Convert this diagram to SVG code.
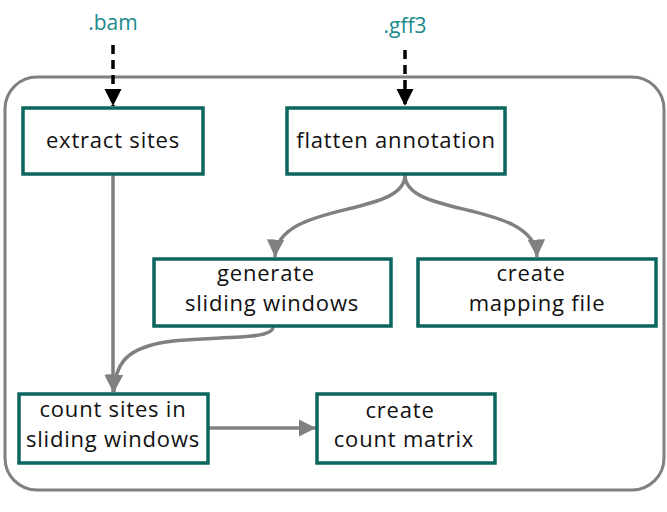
<svg xmlns="http://www.w3.org/2000/svg" width="667" height="512" viewBox="0 0 667 512">
<style>
.box{fill:#fff;stroke:#0b6660;stroke-width:3.5}
.lbl{font-family:"Open Sans","Liberation Sans",sans-serif;font-size:22px;letter-spacing:0.8px;fill:#111;text-anchor:middle}
.ext{font-family:"Open Sans","Liberation Sans",sans-serif;font-size:21px;fill:#1a8a8a;text-anchor:middle}
.con{fill:none;stroke:#808080;stroke-width:3.5}
.dash{fill:none;stroke:#000;stroke-width:3.5;stroke-dasharray:9,6}
</style>
<defs>
<marker id="ga" viewBox="0 0 10 10" refX="10" refY="5" markerWidth="5" markerHeight="5.5" markerUnits="strokeWidth" orient="auto">
<path d="M0,0 L10,5 L0,10 z" fill="#808080"/>
</marker>
<marker id="ba" viewBox="0 0 10 10" refX="10" refY="5" markerWidth="5" markerHeight="6.5" markerUnits="strokeWidth" orient="auto">
<path d="M0,0 L10,5 L0,10 z" fill="#000"/>
</marker>
</defs>
<rect x="0" y="0" width="667" height="512" fill="#fff"/>
<rect id="container" x="5" y="77" width="659" height="413" rx="32" fill="none" stroke="#808080" stroke-width="3"/>
<text class="ext" x="113" y="30">.bam</text>
<text class="ext" x="405" y="33">.gff3</text>
<g id="connectors">
<path class="dash" d="M113,45 L113,106" marker-end="url(#ba)"/>
<path class="dash" d="M405,50 L405,106" marker-end="url(#ba)"/>
<path class="con" d="M113,174 L113,392" marker-end="url(#ga)"/>
<path class="con" d="M405,175 C405,218 277,200 275,257" marker-end="url(#ga)"/>
<path class="con" d="M405,175 C405,218 535,200 537,257" marker-end="url(#ga)"/>
<path class="con" d="M273,327 C273,342 200,335 160,343 C125,350 115,365 114,392" marker-end="url(#ga)"/>
<path class="con" d="M208,428 L316,428" marker-end="url(#ga)"/>
</g>
<g id="extract-sites">
<rect class="box" x="23" y="108" width="180" height="66"/>
<text class="lbl" x="113" y="148">extract sites</text>
</g>
<g id="flatten-annotation">
<rect class="box" x="287" y="108" width="218" height="66"/>
<text class="lbl" x="396" y="148">flatten annotation</text>
</g>
<g id="generate-sliding-windows">
<rect class="box" x="154" y="259" width="237" height="67"/>
<text class="lbl" x="266" y="281">generate</text>
<text class="lbl" x="272" y="311">sliding windows</text>
</g>
<g id="create-mapping-file">
<rect class="box" x="418" y="259" width="238" height="67"/>
<text class="lbl" x="531" y="281">create</text>
<text class="lbl" x="537" y="311">mapping file</text>
</g>
<g id="count-sites">
<rect class="box" x="19" y="394" width="189" height="69"/>
<text class="lbl" x="113" y="417">count sites in</text>
<text class="lbl" x="113" y="447">sliding windows</text>
</g>
<g id="create-count-matrix">
<rect class="box" x="317" y="394" width="178" height="69"/>
<text class="lbl" x="400" y="418">create</text>
<text class="lbl" x="404" y="447">count matrix</text>
</g>
</svg>
